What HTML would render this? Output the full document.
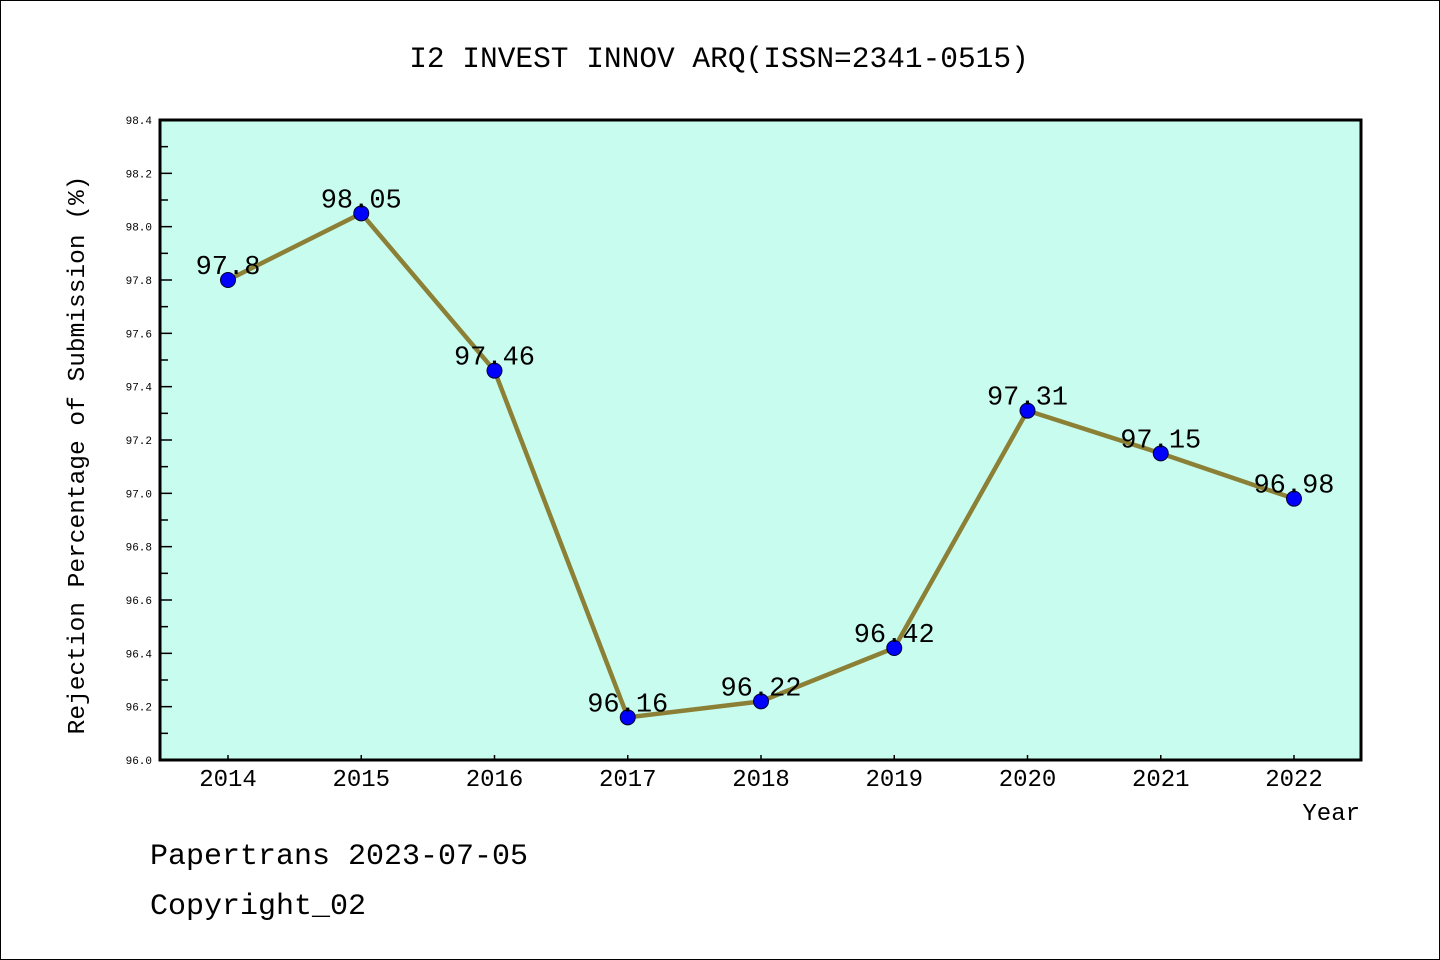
<!DOCTYPE html>
<html><head><meta charset="utf-8"><style>
body{margin:0;background:#fff}
svg{display:block}
text{font-family:"Liberation Mono","WenQuanYi Zen Hei",monospace;fill:#000}
</style></head><body>
<svg id="chart" width="1440" height="960" xmlns="http://www.w3.org/2000/svg">
<rect x="0.5" y="0.5" width="1439" height="959" fill="#fff" stroke="#000"/>
<text x="719" y="67" font-size="29.5" text-anchor="middle">I2 INVEST INNOV ARQ(ISSN=2341-0515)</text>
<rect x="160" y="120" width="1201" height="640" fill="#c8fcee"/>
<g id="ticks"></g>
<g id="series"></g>
<rect x="160" y="120" width="1201" height="640" fill="none" stroke="#000" stroke-width="3"/>
<text x="84" y="455" font-size="24.5" text-anchor="middle" transform="rotate(-90 84 455)">Rejection Percentage of Submission (%)</text>
<text x="1360" y="820" font-size="24" text-anchor="end">Year</text>
<text x="150" y="864" font-size="30">Papertrans 2023-07-05</text>
<text x="150" y="914" font-size="30">Copyright_02</text>
</svg>
<script>
const years=["2014","2015","2016","2017","2018","2019","2020","2021","2022"];
const values=[97.8,98.05,97.46,96.16,96.22,96.42,97.31,97.15,96.98];
const labels=["97.8","98.05","97.46","96.16","96.22","96.42","97.31","97.15","96.98"];
const yTicks=["96.0","96.2","96.4","96.6","96.8","97.0","97.2","97.4","97.6","97.8","98.0","98.2","98.4"];
const NS="http://www.w3.org/2000/svg";
const yMin=96,yMax=98.4;
function ys(v){return 760-(v-yMin)/(yMax-yMin)*640;}
function xs(i){return 228+i*(1294-228)/(years.length-1);}
function mk(tag,attrs,parent){const e=document.createElementNS(NS,tag);for(const k in attrs)e.setAttribute(k,attrs[k]);parent.appendChild(e);return e;}
const tg=document.getElementById('ticks'),sg=document.getElementById('series');
yTicks.forEach((t,i)=>{const v=parseFloat(t),y=ys(v);
 const l=mk('line',{x1:160,x2:172,y1:y,y2:y,stroke:'#000','stroke-width':1.5},tg);
 
 
 const tx=mk('text',{x:152,y:y+4,'font-size':11,'text-anchor':'end'},tg);tx.textContent=t;
 
 
 if(i<yTicks.length-1){const ym=ys(v+0.1);
  const m=mk('line',{x1:160,x2:168,y1:ym,y2:ym,stroke:'#000','stroke-width':1.5},tg);
  
  }
});
years.forEach((yr,i)=>{const x=xs(i);
 const l=mk('line',{x1:x,x2:x,y1:755,y2:760,stroke:'#000','stroke-width':1.5},tg);
 
 
 const tx=mk('text',{x:x,y:786,'font-size':24,'text-anchor':'middle'},tg);tx.textContent=yr;
 
 
});
const pl=mk('polyline',{points:values.map((v,i)=>xs(i)+','+ys(v)).join(' '),fill:'none',stroke:'#8b8035','stroke-width':4.5,'stroke-linejoin':'round'},sg);


values.forEach((v,i)=>{
 const c=mk('circle',{cx:xs(i),cy:ys(v),r:7.5,fill:'#0000ff',stroke:'#000033','stroke-width':1},sg);
 
 
 const t=mk('text',{x:xs(i),y:ys(v)-6,'font-size':27,'text-anchor':'middle'},sg);t.textContent=labels[i];
 
 
});
</script>
</body></html>
